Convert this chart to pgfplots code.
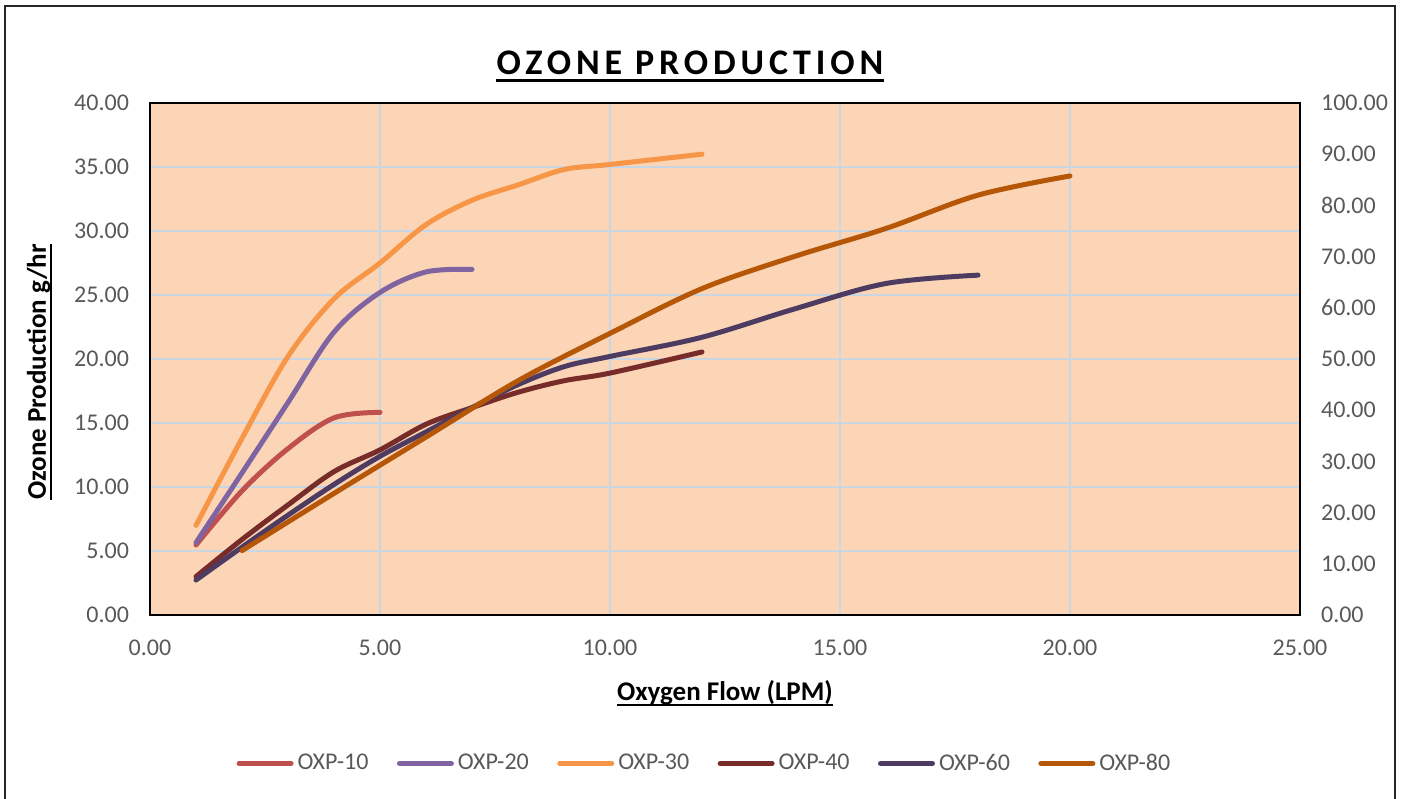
\documentclass[border=0pt]{standalone}
\usepackage{fontspec}
\setmainfont{Carlito}
\usepackage{pgfplots}
\pgfplotsset{compat=1.18}
\definecolor{cA}{HTML}{C0504D}
\definecolor{cB}{HTML}{8064A2}
\definecolor{cC}{HTML}{F79646}
\definecolor{cD}{HTML}{772C2A}
\definecolor{cE}{HTML}{4D3B62}
\definecolor{cF}{HTML}{B65708}
\definecolor{bgc}{HTML}{FBD5B5}
\definecolor{gridc}{HTML}{C8D5E3}
\definecolor{tickc}{HTML}{595959}
\pgfplotsset{numfmt/.style={/pgf/number format/fixed, /pgf/number format/fixed zerofill, /pgf/number format/precision=2, /pgf/number format/assume math mode=true}}
\begin{document}
\begin{tikzpicture}
\useasboundingbox (-75pt,-91.5pt) rectangle (626pt,307.5pt);
\draw[line width=1pt, black!85] (-72.5pt,-100pt) -- (-72.5pt,304.5pt) -- (622.5pt,304.5pt) -- (622.5pt,-100pt);
\begin{axis}[
  at={(0pt,0pt)}, anchor=south west,
  width=575pt, height=256pt, scale only axis,
  xmin=0, xmax=25, ymin=0, ymax=40,
  xtick={0,5,...,25}, ytick={0,5,...,40},
  scaled ticks=false,
  grid=major, major grid style={color=gridc, line width=0.9pt},
  axis background/.style={fill=bgc},
  axis line style={black, line width=0.9pt},
  major tick length=0pt,
  numfmt,
  tick label style={font=\fontsize{12}{14}\selectfont, text=tickc},
  xticklabel style={yshift=-9pt},
  yticklabel style={xshift=-7pt},
  legend columns=6,
  legend style={at={(0.483,-0.29)}, anchor=center, draw=none, fill=none,
    font=\fontsize{12}{14}\selectfont, text=tickc,
    /tikz/every even column/.append style={column sep=12.2pt}},
  legend image code/.code={\draw[#1, line width=2.5pt, line cap=round] (0pt,0pt) -- (26pt,0pt);},
  every axis plot/.append style={line width=2.5pt, line cap=round, line join=round, smooth, tension=0.55},
]
\addplot[color=cA] coordinates {(1,5.47) (2,9.7) (3,13.0) (4,15.4) (5,15.83)};
\addlegendentry{OXP-10}
\addplot[color=cB] coordinates {(1,5.65) (2,11.1) (3,16.6) (4,22.1) (5,25.2) (6,26.8) (7,27.0)};
\addlegendentry{OXP-20}
\addplot[color=cC] coordinates {(1,7.0) (2,13.8) (3,20.2) (4,24.7) (5,27.5) (6,30.5) (7,32.4) (8,33.6) (9,34.8) (10,35.2) (12,36.0)};
\addlegendentry{OXP-30}
\addplot[color=cD] coordinates {(1,3.0) (2,5.9) (3,8.6) (4,11.2) (5,12.9) (6,14.9) (7,16.2) (8,17.4) (9,18.3) (10,18.9) (12,20.55)};
\addlegendentry{OXP-40}
\addplot[color=cE] coordinates {(1,2.73) (2,5.3) (3,7.8) (4,10.2) (5,12.4) (6,14.3) (7,16.2) (8,18.0) (9,19.4) (10,20.2) (12,21.7) (14,23.9) (16,25.9) (18,26.55)};
\addlegendentry{OXP-60}
\addplot[color=cF] coordinates {(2,5.03) (4,9.5) (6,13.9) (8,18.3) (10,22.0) (12,25.5) (14,28.0) (16,30.2) (18,32.8) (20,34.3)};
\addlegendentry{OXP-80}
\end{axis}
\begin{axis}[
  at={(0pt,0pt)}, anchor=south west,
  width=575pt, height=256pt, scale only axis,
  xmin=0, xmax=25, ymin=0, ymax=100,
  ytick={0,10,...,100},
  scaled ticks=false,
  hide x axis,
  axis y line*=right,
  axis line style={black, line width=0.9pt},
  major tick length=0pt,
  numfmt,
  tick label style={font=\fontsize{12}{14}\selectfont, text=tickc},
  yticklabel style={xshift=7pt},
]
\end{axis}
\node[anchor=base, inner sep=0pt, font=\fontsize{18}{20}\selectfont\bfseries\addfontfeatures{LetterSpace=13.5}] (T) at (270pt,270pt) {OZONE PRODUCTION};
\draw[line width=1.5pt] ([yshift=-2.8pt]T.base west) -- ([yshift=-2.8pt]T.base east);
\node[anchor=base, inner sep=0pt, font=\fontsize{13.5}{15}\selectfont\bfseries] (X) at (287.5pt,-42.5pt) {Oxygen Flow (LPM)};
\draw[line width=1pt] ([yshift=-2.5pt]X.base west) -- ([yshift=-2.5pt]X.base east);
\node[anchor=base, rotate=90, inner sep=0pt, font=\fontsize{13.5}{15}\selectfont\bfseries] (Y) at (-52pt,121.5pt) {Ozone Production g/hr};
\draw[line width=1pt] ([xshift=2.5pt]Y.base west) -- ([xshift=2.5pt]Y.base east);
\end{tikzpicture}
\end{document}
